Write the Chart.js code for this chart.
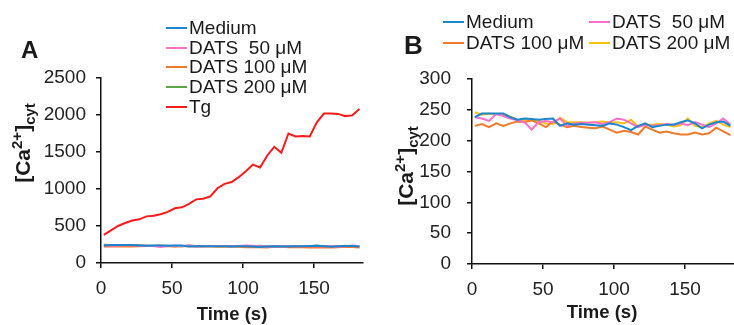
<!DOCTYPE html>
<html>
<head>
<meta charset="utf-8">
<script src="https://cdn.jsdelivr.net/npm/chart.js@4.4.1/dist/chart.umd.min.js"></script>
<style>
  body { margin: 0; width: 734px; height: 325px; position: relative; overflow: hidden; background: #fff;
         font-family: "Liberation Sans", Arial, sans-serif; color: #1a1a1a; }
  canvas { position: absolute; top: 0; }
  .abs { position: absolute; white-space: pre; line-height: 1; }
  .letter { font-weight: bold; }
  .ytitle { font-weight: bold; font-size: 21px; transform: translate(-50%, -50%) rotate(-90deg); }
  .ytitle sup, .ytitle sub { font-size: 15px; line-height: 0; }
  .xtitle { font-weight: bold; font-size: 18.5px; transform: translate(-50%, -50%); }
  .legend { position: absolute; font-size: 19px; }
  .row { display: flex; align-items: center; white-space: pre; }
  .sw { display: inline-block; width: 21px; height: 2px; margin-right: 2px; }
</style>
</head>
<body>
<canvas id="chartA" width="370" height="325" style="left:0"></canvas>
<canvas id="chartB" width="364" height="325" style="left:370px"></canvas>

<div class="abs letter" style="left:21px; top:38px; font-size:24px">A</div>
<div class="abs letter" style="left:404px; top:32px; font-size:26px">B</div>

<div class="abs ytitle" style="left:22px; top:143px">[Ca<sup>2+</sup>]<sub>cyt</sub></div>
<div class="abs ytitle" style="left:405px; top:166px">[Ca<sup>2+</sup>]<sub>cyt</sub></div>
<div class="abs xtitle" style="left:232px; top:314px">Time (s)</div>
<div class="abs xtitle" style="left:602px; top:312px">Time (s)</div>

<div class="legend" id="legendA" style="left:166px; top:18px"></div>
<div class="legend" id="legendB" style="left:443px; top:11px; display:grid; grid-template-columns:146px auto"></div>

<script>
// time points (s)
const times = [2, 7, 12, 17, 22, 27, 32, 37, 42, 47, 52, 57, 62, 67, 72, 77, 82, 87, 92,
               97, 102, 107, 112, 117, 122, 127, 132, 137, 142, 147, 152, 157, 162, 167, 172, 177, 182];

// [Ca2+]cyt traces
const medium  = [238, 244, 244, 244, 244, 238, 234, 236, 235, 234, 235, 236, 224, 228, 226, 227, 226, 225, 224,
                 228, 226, 222, 217, 224, 228, 222, 224, 226, 226, 230, 233, 228, 220, 226, 230, 231, 224];
const dats50  = [238, 236, 232, 243, 240, 236, 233, 230, 218, 230, 232, 230, 236, 224, 228, 229, 229, 230, 227,
                 230, 236, 234, 228, 222, 226, 224, 225, 227, 226, 228, 225, 230, 226, 222, 228, 236, 226];
const dats100 = [224, 227, 222, 228, 224, 228, 231, 230, 233, 228, 222, 231, 226, 222, 224, 222, 221, 220, 223,
                 218, 213, 216, 214, 210, 223, 218, 213, 215, 212, 210, 210, 213, 210, 212, 221, 215, 209];
const dats200 = [246, 242, 244, 243, 243, 239, 234, 233, 233, 232, 228, 227, 237, 230, 230, 230, 229, 230, 231,
                 229, 230, 228, 234, 223, 226, 226, 227, 226, 223, 225, 236, 224, 222, 228, 232, 226, 222];
const tg      = [380, 440, 500, 540, 575, 590, 630, 640, 660, 690, 740, 752, 800, 860, 868, 900, 1010, 1070, 1095,
                 1160, 1240, 1330, 1290, 1450, 1570, 1490, 1750, 1710, 1715, 1710, 1900, 2020, 2020, 2015, 1985, 1995, 2080];

const namesA = ['Medium', 'DATS  50 μM', 'DATS 100 μM', 'DATS 200 μM', 'Tg'];
const namesB = ['Medium', 'DATS  50 μM', 'DATS 100 μM', 'DATS 200 μM'];

const xTicks = [0, 50, 100, 150];
const yTicksA = [0, 500, 1000, 1500, 2000, 2500];
const yTicksB = [0, 50, 100, 150, 200, 250, 300];

const colorsA = ['#1a86d0', '#ff6ec7', '#f07a2c', '#5aa845', '#ff1a1a'];
const colorsB = ['#1a86d0', '#ff6ec7', '#f07a2c', '#ffc20e'];

function buildLegend(el, names, colors) {
  names.forEach((n, i) => {
    const row = document.createElement('div');
    row.className = 'row';
    row.style.height = el.id === 'legendA' ? '19.7px' : '21.6px';
    row.innerHTML = '<span class="sw" style="background:' + colors[i] + '"></span>' + n;
    el.appendChild(row);
  });
}
buildLegend(document.getElementById('legendA'), namesA, colorsA);
buildLegend(document.getElementById('legendB'), namesB, colorsB);

const tickFont = { family: 'Liberation Sans', size: 19 };

function axis(ticks, pad, extra) {
  return Object.assign({
    type: 'linear',
    min: ticks[0],
    border: { display: true, color: '#111', width: 1.5 },
    grid: { drawOnChartArea: false, drawTicks: true, tickLength: 5, color: '#111', lineWidth: 1.5 },
    ticks: { color: '#222', padding: pad, font: tickFont, callback: v => String(v) },
    afterBuildTicks: s => { s.ticks = ticks.map(v => ({ value: v })); }
  }, extra);
}

function makeChart(id, series, colors, yTicks, geom) {
  new Chart(document.getElementById(id), {
    type: 'line',
    data: {
      datasets: series.map((ys, i) => ({
        data: times.map((t, k) => ({ x: t, y: ys[k] })),
        borderColor: colors[i],
        borderWidth: 2,
        pointRadius: 0,
        tension: 0,
        fill: false
      }))
    },
    options: {
      responsive: false,
      animation: false,
      layout: { padding: { top: geom.top, right: geom.right, left: 0, bottom: 0 } },
      plugins: { legend: { display: false }, tooltip: { enabled: false } },
      scales: {
        x: axis(xTicks, 9, { max: 184.5, afterFit: s => { s.height = geom.xh; } }),
        y: axis(yTicks, geom.ypad, { max: yTicks[yTicks.length - 1], afterFit: s => { s.width = geom.yw; } })
      }
    }
  });
}

makeChart('chartA', [medium, dats50, dats100, dats200, tg], colorsA, yTicksA,
          { top: 78, right: 7, xh: 62, yw: 101, ypad: 10 });
makeChart('chartB', [medium, dats50, dats100, dats200], colorsB, yTicksB,
          { top: 79, right: 0, xh: 61, yw: 102, ypad: 16 });
</script>
</body>
</html>
